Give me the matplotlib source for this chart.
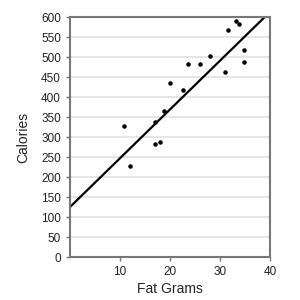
import numpy as np
import matplotlib.pyplot as plt

plt.rcParams['font.family'] = ['Liberation Sans', 'DejaVu Sans']

fat_grams = [10.8, 12.1, 17.0, 17.0, 18.1, 18.9, 20.0, 22.6, 23.6, 26.0,
             28.1, 31.1, 31.7, 33.2, 33.8, 34.8, 34.9]
calories = [327, 227, 337, 284, 289, 365, 435, 417, 482, 482,
            502, 462, 568, 590, 582, 517, 487]

# fitted line: calories = intercept + slope * fat
intercept = 125
slope = 12.2

fig = plt.figure(figsize=(3, 3), dpi=100)
ax = fig.add_axes([0.233, 0.143, 0.667, 0.8])

ax.set_xlim(0, 40)
ax.set_ylim(0, 600)
ax.set_yticks(np.arange(0, 601, 50))
ax.set_xticks([10, 20, 30, 40])
ax.grid(axis='y', color='#e0e0e0', lw=1.2)
ax.set_axisbelow(True)

x_end = (600 - intercept) / slope
xs = np.array([0, x_end])
ax.plot(xs, intercept + slope * xs, color='black', lw=1.6, solid_capstyle='butt')
ax.scatter(fat_grams, calories, s=5, color='black', zorder=3)

for s in ax.spines.values():
    s.set_color('#777777')
    s.set_linewidth(1.5)
ax.tick_params(colors='#777777', labelcolor='#222222', length=3, width=1, labelsize=8.5)

ax.set_xlabel('Fat Grams', fontsize=10, color='#222222', labelpad=3)
ax.set_ylabel('Calories', fontsize=10, color='#222222', labelpad=8)

fig.savefig('out.png', dpi=100)
